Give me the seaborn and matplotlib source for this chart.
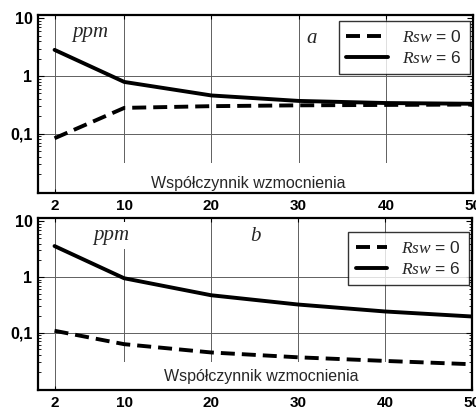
import matplotlib
matplotlib.use('Agg')
import matplotlib.pyplot as plt
import matplotlib.patches as mpatches
from matplotlib.ticker import LogLocator, NullFormatter, FixedLocator
import pandas as pd
import seaborn as sns

# dane
x_vals = [2, 10, 20, 30, 40, 50]
a_rsw0 = [0.083, 0.28, 0.30, 0.31, 0.315, 0.32]
a_rsw6 = [2.85, 0.79, 0.46, 0.37, 0.34, 0.33]
b_rsw0 = [0.108, 0.062, 0.044, 0.036, 0.031, 0.027]
b_rsw6 = [3.6, 0.95, 0.47, 0.32, 0.24, 0.195]

x_ticks = [2, 10, 20, 30, 40, 50]
y_ticks = [0.1, 1, 10]
y_labels = ['0,1', '1', '10']
series_labels = [r'$\mathit{Rsw}$ = 0', r'$\mathit{Rsw}$ = 6']
panel_letters = ['a', 'b']
x_title = 'Współczynnik wzmocnienia'

sns.set_style('ticks')
plt.rcParams['font.family'] = ['Liberation Sans', 'DejaVu Sans']
plt.rcParams['mathtext.fontset'] = 'custom'
plt.rcParams['mathtext.it'] = 'Liberation Serif:italic'
plt.rcParams['mathtext.rm'] = 'Liberation Sans'

fig = plt.figure(figsize=(4.77, 4.09), dpi=100)
ax_a = fig.add_axes([38 / 477, (409 - 193) / 409, 435 / 477, 178 / 409])
ax_b = fig.add_axes([38 / 477, (409 - 390) / 409, 434 / 477, 172 / 409])


def make_df(rsw0, rsw6):
    df = pd.DataFrame({'x': x_vals * 2,
                       'y': rsw0 + rsw6,
                       'Rsw': [series_labels[0]] * 6 + [series_labels[1]] * 6})
    return df


def draw_panel(ax, df, letter, ppm_pos, letter_pos, leg_anchor, title_pos, cover_y, hlen):
    sns.lineplot(data=df, x='x', y='y', style='Rsw', ax=ax, color='black',
                 linewidth=2.8, dashes={series_labels[0]: (3.6, 1.8), series_labels[1]: ''},
                 zorder=5)
    ax.set_yscale('log')
    ax.set_xlim(0.1, 50)
    ax.set_ylim(0.0093, 11.5)
    ax.set_xlabel('')
    ax.set_ylabel('')
    ax.xaxis.set_major_locator(FixedLocator(x_ticks))
    ax.set_xticklabels([str(t) for t in x_ticks], fontweight='bold', fontsize=11)
    ax.yaxis.set_major_locator(FixedLocator(y_ticks))
    ax.set_yticklabels(y_labels, fontweight='bold', fontsize=11.5)
    ax.yaxis.set_minor_locator(LogLocator(base=10, subs=range(2, 10)))
    ax.yaxis.set_minor_formatter(NullFormatter())
    ax.tick_params(axis='both', which='both', direction='in', right=True, top=True,
                   pad=4, colors='black')
    ax.tick_params(axis='y', which='major', length=4, width=0.8)
    ax.tick_params(axis='y', which='minor', length=2.5, width=0.6)
    ax.tick_params(axis='x', which='major', length=3, width=0.8)
    ax.grid(True, which='major', color='#606060', linewidth=0.7, zorder=1)
    ax.get_ygridlines()[2].set_visible(False)
    for sp in ax.spines.values():
        sp.set_linewidth(1.6)
        sp.set_color('black')
        sp.set_zorder(6)
    # białe tło pod podpisem osi
    ax.add_patch(mpatches.Rectangle((0.06, 0.0), 0.86, cover_y, transform=ax.transAxes,
                                    facecolor='white', edgecolor='none', zorder=2))
    ax.text(title_pos[0], title_pos[1], x_title, transform=ax.transAxes, ha='center',
            va='center', fontsize=11.5, zorder=3)
    ax.text(ppm_pos[0], ppm_pos[1], 'ppm', transform=ax.transAxes, ha='center', va='center',
            fontsize=15, family='Liberation Serif', style='italic', zorder=3,
            bbox=dict(facecolor='white', edgecolor='none', pad=3))
    ax.text(letter_pos[0], letter_pos[1], letter, transform=ax.transAxes, ha='center',
            va='center', fontsize=15, family='Liberation Serif', style='italic', zorder=3,
            bbox=dict(facecolor='white', edgecolor='none', pad=4))
    leg = ax.legend(loc='upper right', bbox_to_anchor=leg_anchor, fontsize=12.5,
                    frameon=True, fancybox=False, handlelength=hlen, handletextpad=0.8,
                    borderpad=0.45, labelspacing=0.3, borderaxespad=0.2)
    leg.get_frame().set_edgecolor('black')
    leg.get_frame().set_linewidth(1.0)
    leg.set_zorder(7)


draw_panel(ax_a, make_df(a_rsw0, a_rsw6), panel_letters[0],
           (0.12, 0.9), (0.63, 0.87), (1.0, 0.985), (0.483, 0.056), 0.17, 2.4)
draw_panel(ax_b, make_df(b_rsw0, b_rsw6), panel_letters[1],
           (0.17, 0.9), (0.5, 0.89), (1.0, 0.94), (0.514, 0.08), 0.16, 1.8)

fig.savefig('out.png', dpi=100)
